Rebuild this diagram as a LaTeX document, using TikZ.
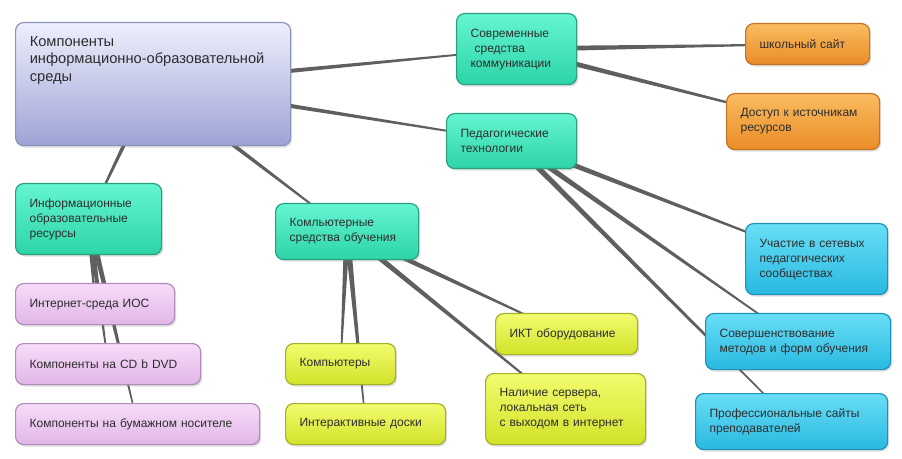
\documentclass[tikz,border=0pt]{standalone}
\usepackage{fontspec}
\setmainfont{Liberation Sans}
\usetikzlibrary{calc,shadows,backgrounds}
\definecolor{Ink}{RGB}{45,45,45}
\definecolor{Branch}{RGB}{95,95,95}
\definecolor{RootTop}{RGB}{238,239,252}
\definecolor{RootBot}{RGB}{158,163,214}
\definecolor{RootEdge}{RGB}{140,145,185}
\definecolor{TealTop}{RGB}{100,245,210}
\definecolor{TealBot}{RGB}{45,212,168}
\definecolor{TealEdge}{RGB}{40,160,125}
\definecolor{OrTop}{RGB}{250,188,95}
\definecolor{OrBot}{RGB}{234,140,40}
\definecolor{OrEdge}{RGB}{195,115,35}
\definecolor{PkTop}{RGB}{247,220,248}
\definecolor{PkBot}{RGB}{225,182,232}
\definecolor{PkEdge}{RGB}{175,140,185}
\definecolor{YeTop}{RGB}{242,252,110}
\definecolor{YeBot}{RGB}{210,226,40}
\definecolor{YeEdge}{RGB}{165,175,40}
\definecolor{CyTop}{RGB}{105,222,246}
\definecolor{CyBot}{RGB}{40,185,225}
\definecolor{CyEdge}{RGB}{30,145,185}
\newcommand{\lnk}[3][2.2pt]{\fill[Branch] ($(#2)!#1!90:(#3)$) -- ($(#3)!.4pt!-90:(#2)$)
  -- ($(#3)!.4pt!90:(#2)$) -- ($(#2)!#1!-90:(#3)$) -- cycle;}
\tikzset{
  mbox/.style={rectangle,rounded corners=6pt,anchor=north west,align=left,
               font=\fontsize{9}{11.25}\selectfont,text=Ink,line width=.9pt,
               inner xsep=10.5pt,
               drop shadow={shadow xshift=1.2pt,shadow yshift=-1.5pt,opacity=.25}},
  sz/.style 2 args={minimum width=#1*0.75pt,minimum height=#2*0.75pt,
                    text width=#1*0.75pt-21pt},
  mroot/.style={mbox,draw=RootEdge,top color=RootTop,bottom color=RootBot},
  mteal/.style={mbox,draw=TealEdge,top color=TealTop,bottom color=TealBot},
  morange/.style={mbox,draw=OrEdge,top color=OrTop,bottom color=OrBot},
  mpink/.style={mbox,draw=PkEdge,top color=PkTop,bottom color=PkBot},
  myellow/.style={mbox,draw=YeEdge,top color=YeTop,bottom color=YeBot},
  mcyan/.style={mbox,draw=CyEdge,top color=CyTop,bottom color=CyBot},
}
\begin{document}
\begin{tikzpicture}[x=0.75pt,y=-0.75pt]
  \useasboundingbox (0,0) rectangle (902,459);
  % centre and main branches
  \node[mroot,minimum width=206.25pt,minimum height=92.25pt,inner xsep=10pt,
        font=\fontsize{11}{13.2}\selectfont] (root) at (15,22)
    {\parbox[c][72pt][t]{185pt}{Компоненты\\информационно-образовательной\\среды}};
  \node[mteal,sz={120}{71}] (mcomm) at (456,13) {Современные\\\ средства\\коммуникации};
  \node[mteal,sz={130}{55}] (mpeda) at (446,113) {Педагогические\\технологии};
  \node[mteal,sz={146}{71}] (mres) at (15,183) {Информационные\\образовательные\\ресурсы};
  \node[mteal,sz={143}{56}] (mcomp) at (275,203) {Комльютерные\\средства обучения};
  % leaves
  \node[morange,sz={124}{41}] (site) at (745,23) {школьный сайт};
  \node[morange,sz={153}{56}] (access) at (726,93) {Доступ к источникам\\ресурсов};
  \node[mpink,sz={159}{41}] (inet) at (15,283) {Интернет-среда ИОС};
  \node[mpink,sz={185}{41}] (cd) at (15,343) {Компоненты на CD b DVD};
  \node[mpink,sz={244}{41}] (paper) at (15,403) {Компоненты на бумажном носителе};
  \node[myellow,sz={110}{41}] (pcs) at (285,343) {Компьютеры};
  \node[myellow,sz={160}{41}] (boards) at (285,403) {Интерактивные доски};
  \node[myellow,sz={142}{41}] (ict) at (495,313) {ИКТ оборудование};
  \node[myellow,sz={160}{71}] (server) at (485,373) {Наличие сервера,\\локальная сеть\\с выходом в интернет};
  \node[mcyan,sz={142}{71}] (net) at (745,223) {Участие в сетевых\\педагогических\\сообществах};
  \node[mcyan,sz={185}{56}] (methods) at (705,313) {Совершенствование\\методов и форм обучения};
  \node[mcyan,sz={192}{56}] (sites) at (695,393) {Профессиональные сайты\\преподавателей};
  % branches
  \begin{scope}[on background layer]
    \foreach \kid in {mcomm,mpeda,mres,mcomp} {\lnk{root}{\kid}}
    \foreach \kid in {site,access} {\lnk{mcomm}{\kid}}
    \foreach \kid in {net,methods,sites} {\lnk{mpeda}{\kid}}
    \foreach \kid in {inet,cd,paper} {\lnk{mres}{\kid}}
    \foreach \kid in {pcs,boards,ict,server} {\lnk{mcomp}{\kid}}
  \end{scope}
\end{tikzpicture}
\end{document}
